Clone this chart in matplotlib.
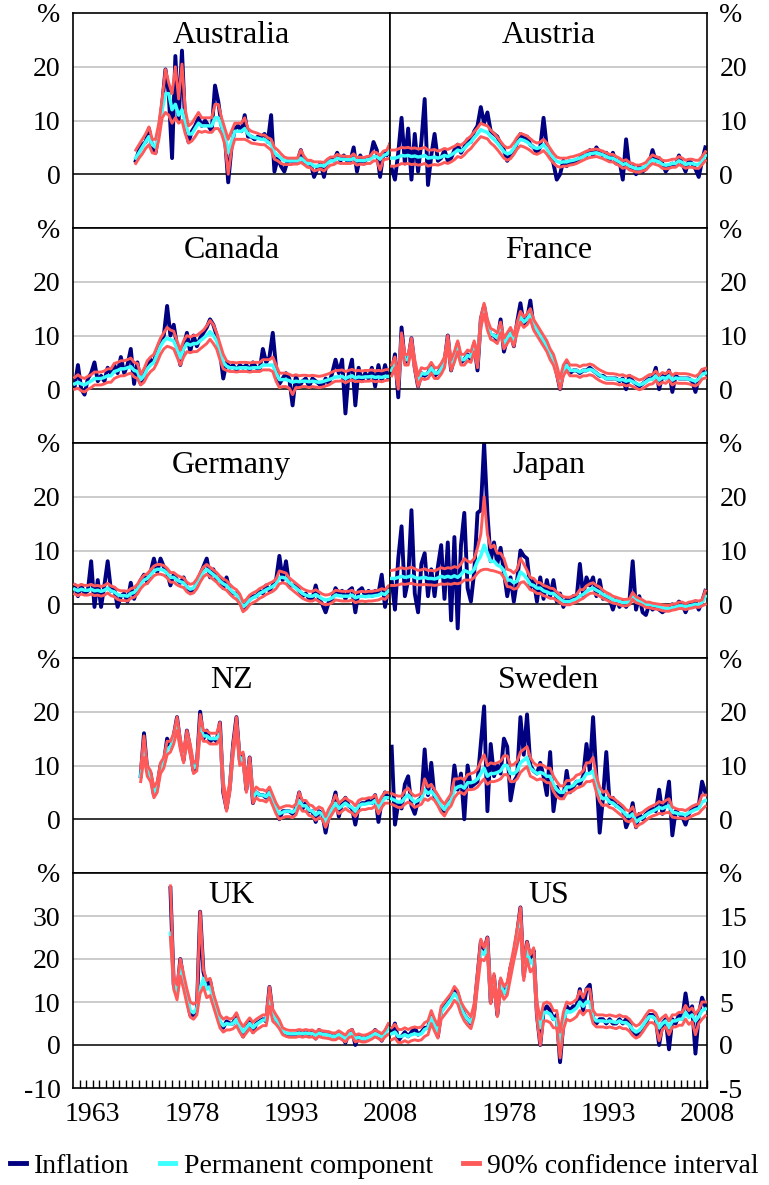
import numpy as np
import matplotlib
matplotlib.use("Agg")
import matplotlib.pyplot as plt
from matplotlib.lines import Line2D

plt.rcParams["font.family"] = ["Liberation Serif", "DejaVu Serif"]

INFL_C = "#000080"
PERM_C = "#3CFFFF"
CI_C = "#FF5A5A"

# half-year steps from the start year
aus_start = 1969.5
aus_infl = [2.5, 4.5, 5.5, 6, 8.5, 5, 4, 8, 13, 19.5,
            15, 3, 22, 10, 23, 9, 6, 8, 9, 10.5,
            9, 10, 9, 8, 16.5, 13.5, 9, 7, -1.5, 5,
            8.5, 9, 8, 11, 7, 7, 6.5, 7, 7, 7.5,
            6, 11, 0.5, 3, 1.5, 0.5, 2.5, 2.5, 2.5, 2.5,
            4.5, 2, 2, 2, -0.5, 1, 2, -0.5, 2.5, 3,
            2.5, 4, 2.5, 3.5, 2.5, 2.5, 5, 0.5, 3.5, 2,
            3, 3, 6, 4.5, -0.5, 4, 3.5, 5.5]
aus_perm = [3, 4, 5, 6, 7, 5.5, 5, 8, 12, 15,
            15, 12, 13, 11, 12, 9.5, 7.5, 7.5, 8.5, 9.5,
            9, 9, 9, 9, 10.5, 10.5, 9, 7, 4, 6,
            8, 8, 8, 8.5, 7.5, 7, 6.8, 6.7, 6.5, 6.5,
            6, 5.5, 4, 3.5, 3, 2.5, 2.5, 2.5, 2.5, 2.5,
            3, 2.5, 2, 2, 1.5, 1.5, 1.7, 1.5, 2, 2.5,
            2.5, 3, 2.8, 2.8, 2.7, 2.7, 3, 2.5, 2.6, 2.5,
            2.7, 2.8, 3.3, 3.3, 2.8, 3.5, 3.7, 4.5]
aus_hi = [4.5, 5.5, 6.5, 7.5, 8.8, 6.5, 6.5, 9.5, 14, 19.5,
          17, 15, 20, 14, 20.5, 12, 9, 9.5, 10.5, 11.5,
          10.5, 10.5, 10.5, 10.5, 13, 13, 10.5, 8.5, 6.5, 8,
          9.5, 9.5, 9.5, 10.5, 8.5, 8, 7.8, 7.6, 7.3, 7.3,
          6.8, 6.5, 5, 4.5, 3.8, 3.2, 3, 3, 3, 3,
          4.5, 3.3, 2.6, 2.6, 2.3, 2.3, 2.3, 2.2, 2.8, 3.2,
          3.2, 3.7, 3.4, 3.4, 3.3, 3.3, 3.8, 3.1, 3.2, 3.1,
          3.3, 3.4, 4.2, 4, 3.5, 4.3, 4.5, 5.7]
aus_lo = [2, 3, 3.8, 4.8, 5.5, 4, 3.8, 6.5, 10.5, 11.5,
          11, 9.5, 10.5, 9.5, 10, 7.5, 5.8, 6.2, 7, 8,
          7.8, 8, 7.8, 7.8, 8.5, 8.5, 7.5, 5.5, 0, 4.5,
          6.5, 6.5, 6.5, 6.5, 6.2, 5.8, 5.7, 5.6, 5.5, 5.5,
          5, 4.5, 2.8, 2.5, 2, 1.8, 1.8, 1.8, 1.9, 1.9,
          2.2, 1.8, 1.3, 1.2, 0.6, 0.8, 1, 0.6, 1.2, 1.7,
          1.8, 2.2, 2, 2, 2, 2, 2.2, 1.7, 1.9, 1.8,
          2, 2, 2.5, 2.5, 0.8, 2.7, 2.8, 3]

aut_start = 1960.25
aut_infl = [1, -1, 4, 10.5, 2, 8.5, -1, 7.5, 0.5, 6, 14, -2,
            3.5, 7.5, 2.5, 3, 4.5, 2.5, 3, 4.5, 5.5, 4, 5, 6.5,
            6, 8, 9, 12.5, 9.5, 11.5, 8, 7.5, 7, 5.5, 4.5, 2.5,
            3.5, 4, 6, 7.5, 6.5, 7, 5.5, 5, 4, 5, 10.5, 5,
            4, 2, -1, 0, 2.5, 1.5, 2.5, 2, 2.5, 3, 3.5, 3.5,
            4.5, 3.5, 5, 4, 3.5, 4, 2.5, 4, 2, 2.5, -1, 6.5,
            1, 1.5, 0, 1.5, 0.5, 1, 2, 4.5, 2.5, 3, 2, 0.5,
            1.5, 2, 1.5, 3.5, 2, 0.5, 2.5, 2, 1, -0.5, 2.5, 5]
aut_perm = [3, 3, 3.2, 3.5, 3.4, 3.5, 3.3, 3.4, 3.2, 3.3, 3.5, 3, 3.1, 3.2,
            3, 3.2, 3.5, 3.3, 3.6, 4, 4.5, 4.3, 4.8, 5.5, 6, 6.8,
            7.5, 8.3, 8, 7.8, 7, 6.5, 5.8, 5, 4.2, 3.8, 4, 4.8,
            5.8, 6.5, 6.3, 6, 5.5, 5, 4.8, 5, 5.5, 4.8, 3.8, 3,
            2.4, 2.2, 2.3, 2.3, 2.5, 2.6, 2.8, 3, 3.3, 3.6, 3.8, 3.9,
            4, 3.8, 3.6, 3.3, 3, 3, 2.6, 2.3, 1.8, 2, 1.5, 1.3,
            1, 1, 1.2, 1.5, 2.2, 2.7, 2.5, 2.3, 1.8, 1.7, 1.8, 2,
            2, 2.5, 2.2, 1.8, 2, 2, 1.8, 1.8, 2.5, 3.5]
aut_hi = [4.5, 4.5, 4.7, 5, 4.9, 5, 4.8, 4.9, 4.7, 4.8, 5, 4.5, 4.5, 4.6,
          4.3, 4.5, 4.8, 4.6, 4.9, 5.2, 5.6, 5.4, 5.9, 6.6, 7.1, 7.9,
          8.6, 9.5, 9.2, 9, 8.2, 7.6, 6.9, 6.1, 5.3, 4.9, 5.1, 5.9,
          6.9, 7.6, 7.4, 7.1, 6.6, 6.1, 5.8, 6, 6.5, 5.8, 4.8, 3.9,
          3.2, 3, 3, 3, 3.2, 3.3, 3.5, 3.7, 4, 4.3, 4.5, 4.6,
          4.7, 4.5, 4.3, 4, 3.7, 3.7, 3.3, 3, 2.5, 2.7, 2.2, 2,
          1.7, 1.7, 1.9, 2.2, 3, 3.6, 3.3, 3.1, 2.6, 2.5, 2.6, 2.8,
          2.8, 3.3, 3, 2.6, 2.8, 2.8, 2.6, 2.6, 3.3, 4.2]
aut_lo = [1.5, 1.5, 1.7, 2, 1.9, 2, 1.8, 1.9, 1.7, 1.8, 2, 1.5, 1.7, 1.8,
          1.7, 1.9, 2.2, 2, 2.3, 2.7, 3.3, 3.1, 3.6, 4.3, 4.8, 5.6,
          6.3, 7, 6.8, 6.6, 5.8, 5.3, 4.6, 3.8, 3, 2.6, 2.9, 3.7,
          4.7, 5.3, 5.1, 4.8, 4.4, 3.9, 3.7, 4, 4.4, 3.7, 2.8, 2.1,
          1.5, 1.3, 1.5, 1.5, 1.7, 1.8, 2, 2.3, 2.6, 2.9, 3.1, 3.2,
          3.3, 3.1, 2.9, 2.6, 2.3, 2.3, 1.9, 1.6, 1.1, 1.3, 0.8, 0.6,
          0.4, 0.4, 0.6, 0.8, 1.5, 2, 1.8, 1.6, 1.1, 1, 1.1, 1.3,
          1.3, 1.8, 1.5, 1.1, 1.3, 1.3, 1.1, 1.1, 1.8, 2.5]

can_start = 1960.25
can_infl = [0.5, 4.5, 0, -1, 2, 3, 5, 1.5, 2.5, 1.5, 4, 3,
            4.5, 3, 6, 3, 4.5, 7.5, 1, 5, 1, 2.5, 4.5, 5.5,
            5, 7.5, 9, 10, 15.5, 10, 12, 8, 4.5, 8, 10.5, 7,
            10, 8, 9.5, 10.5, 11.5, 13, 12, 10, 7, 2, 5, 4,
            4.5, 3.5, 4.5, 4, 4.5, 3.5, 5, 4, 3.5, 7.5, 5, 6,
            10.5, 4, 1, 2, 3, 2, -3, 2.5, 0.5, 1.5, 2, 0.5,
            2, 1.5, 1, 0.5, 2, 1, 3, 5.5, 3, 5.5, -4.5, 3,
            5.5, -3, 4, 1.5, 3, 2, 4, 0.5, 4.5, 1.5, 4.5, 2]
can_perm = [1, 1.3, 1, 0.8, 1.2, 1.5, 2, 2, 2, 2.2, 2.5, 2.5,
            3.3, 3.5, 3.8, 3.8, 4, 4.2, 3.5, 3.3, 1.8, 2.5, 3.8, 4.5,
            5, 6.5, 8, 9, 9.5, 9.2, 9, 7.5, 5.8, 7.5, 8.5, 8.2,
            8.5, 8.5, 9, 9.5, 10, 10.7, 10, 9, 7, 5, 4.3, 4,
            4, 3.9, 4, 4, 4, 3.9, 4, 4, 4, 4.5, 4.5, 4.5,
            4.5, 3, 1.8, 1.8, 1.8, 1.6, 1.3, 1.5, 1.4, 1.5, 1.5, 1.4,
            1.5, 1.4, 1.3, 1.4, 1.6, 1.8, 2, 2.3, 2.3, 2.4, 2, 2.3,
            2.5, 2.1, 2.3, 2.2, 2.3, 2.3, 2.4, 2.2, 2.3, 2.2, 2.4, 2.4]
can_hi = [2.2, 2.7, 2.2, 2, 2.4, 2.7, 3.2, 3.2, 3.2, 3.4, 3.8, 3.8,
          4.8, 5, 5.3, 5.3, 5.5, 5.8, 5, 4.8, 2.8, 3.8, 5.3, 6,
          6.5, 8, 9.5, 10.5, 11.5, 11, 10.8, 9, 7.3, 9, 10, 9.7,
          10, 10, 10.5, 11, 11.8, 12.8, 12, 10.5, 8.5, 6.5, 5.3, 5,
          5, 4.9, 5, 5, 5, 4.9, 5, 5, 5, 5.5, 5.5, 5.5,
          6, 4.5, 3, 3, 3, 2.8, 2.5, 2.7, 2.5, 2.6, 2.6, 2.5,
          2.6, 2.5, 2.4, 2.5, 2.7, 2.9, 3.2, 3.5, 3.5, 3.6, 3.3, 3.5,
          3.7, 3.4, 3.5, 3.4, 3.5, 3.5, 3.6, 3.4, 3.5, 3.4, 3.6, 3.7]
can_lo = [0, 0.2, -0.3, -0.5, 0, 0.3, 0.8, 0.8, 0.8, 1, 1.3, 1.3,
          2, 2.3, 2.5, 2.5, 2.8, 3, 2.3, 2, 0.8, 1.3, 2.5, 3.3,
          3.8, 5, 6.5, 7.5, 8, 7.8, 7.5, 6, 4.5, 6, 7, 6.8,
          7, 7, 7.5, 8, 8.5, 9.3, 8.5, 7.5, 5.5, 3.8, 3.5, 3.3,
          3.3, 3.2, 3.3, 3.3, 3.3, 3.2, 3.3, 3.3, 3.3, 3.6, 3.6, 3.6,
          3.3, 1.5, 0.3, 0.5, 0.5, 0.2, -1, 0.3, 0.3, 0.5, 0.5, 0.3,
          0.5, 0.4, 0.3, 0.4, 0.6, 0.8, 1.2, 1.5, 1.5, 1.6, 1.2, 1.5,
          1.7, 1.4, 1.5, 1.4, 1.5, 1.5, 1.6, 1.4, 1.5, 1.4, 1.6, 1.7]

fra_start = 1960.25
fra_infl = [3, 6.5, -1.5, 11.5, 5, 5.5, 9.5, 4, 0.5, 3, 2.5, 3,
            4.5, 2.5, 3, 4, 5, 10, 3.5, 6, 8.5, 5, 5.5, 6.5,
            5.5, 8.5, 3.5, 13, 15.5, 12, 10, 10, 9, 13, 7, 9.5,
            11, 8, 12.5, 16, 12, 13, 16.5, 11.5, 11, 10, 9, 8,
            6.5, 5.5, 3, 0, 3.5, 5, 3, 3.5, 3.5, 3, 3.5, 3.5,
            4, 3.5, 3, 2.5, 2.5, 2, 2, 2, 2, 1.5, 2, 0,
            2.5, 1.5, 1, 0.5, 1, 1.5, 2, 2, 4, 0, 2.5, 2,
            3.5, -0.5, 2.5, 2, 2, 2, 2, 1.5, -0.5, 2, 3.5, 3]
fra_perm = [3.5, 5, 1, 9.5, 5.5, 5.5, 8.5, 4.5, 1.5, 3, 2.8, 3,
            4, 3, 3, 3.8, 5, 9, 4.5, 6, 8, 5.5, 5.5, 6.3,
            6, 8, 5, 12.5, 15, 12, 10.3, 10, 9.5, 11.5, 8.5, 9.5,
            10.5, 9, 11.5, 13.5, 12.5, 13, 14, 12, 11, 10, 9, 8,
            6.5, 5.5, 3.5, 1, 3.5, 4.5, 3.5, 3.5, 3.5, 3.2, 3.5, 3.5,
            3.7, 3.5, 3, 2.6, 2.3, 2, 2, 2, 1.9, 1.7, 1.8, 1.5,
            1.7, 1.4, 1.1, 0.8, 1, 1.4, 1.8, 1.9, 2.5, 1.7, 2.2, 2,
            2.5, 1.7, 2.1, 2, 2, 2, 1.9, 1.7, 1.5, 1.9, 2.8, 3]
fra_hi = [4.5, 6, 2, 10.5, 6.5, 6.5, 9.5, 5.5, 2.5, 4, 3.8, 4,
          5, 4, 4, 4.8, 6, 10, 5.5, 7, 9, 6.5, 6.5, 7.3,
          7, 9, 6, 13.5, 16, 13, 11.3, 11, 10.5, 12.5, 9.5, 10.5,
          11.5, 10, 12.5, 14.5, 13.5, 14, 15, 13, 12, 11, 10, 9,
          7.5, 6.5, 4.5, 2, 4.5, 5.5, 4.5, 4.5, 4.5, 4.2, 4.5, 4.5,
          4.7, 4.5, 4, 3.6, 3.3, 3, 2.9, 2.9, 2.8, 2.6, 2.7, 2.4,
          2.6, 2.3, 2, 1.7, 1.9, 2.3, 2.7, 2.8, 3.4, 2.6, 3.1, 2.9,
          3.4, 2.6, 3, 2.9, 2.9, 2.9, 2.8, 2.6, 2.4, 2.8, 3.7, 3.9]
fra_lo = [2.5, 4, 0, 8.5, 4.5, 4.5, 7.5, 3.5, 0.5, 2, 1.8, 2,
          3, 2, 2, 2.8, 4, 8, 3.5, 5, 7, 4.5, 4.5, 5.3,
          5, 7, 4, 11.5, 14, 11, 9.3, 9, 8.5, 10.5, 7.5, 8.5,
          9.5, 8, 10.5, 12.5, 11.5, 12, 13, 11, 10, 9, 8, 7,
          5.5, 4.5, 2.5, 0, 2.5, 3.5, 2.5, 2.5, 2.5, 2.2, 2.5, 2.5,
          2.7, 2.5, 2, 1.6, 1.3, 1.1, 1.1, 1.1, 1, 0.8, 0.9, 0.6,
          0.8, 0.5, 0.2, -0.1, 0.1, 0.5, 0.9, 1, 1.6, 0.8, 1.3, 1.1,
          1.6, 0.8, 1.2, 1.1, 1.1, 1.1, 1, 0.8, 0.6, 1, 1.9, 2.1]

ger_start = 1960.25
ger_infl = [3.5, 1.5, 3.5, 2, 2.5, 8, -0.5, 4.5, -0.5, 3.5, 8, 2.5,
            3, -0.5, 1.5, 2, 0.5, 4, 1, 3, 4.5, 5.5, 4, 6,
            8.5, 6, 8.5, 7, 6, 3.5, 5.5, 4.5, 4, 5, 3, 2.5,
            2.5, 4, 5.5, 7, 8.5, 5, 6.5, 4.5, 5, 3, 5, 2.5,
            2, 2, 1, -1, 0, 1, 1.5, 1.5, 2.5, 2, 3.5, 2.5,
            3.5, 4.5, 9, 4.5, 8, 3.5, 3.5, 3.5, 2.5, 1.5, 2, 1,
            1, 3.5, 1, 0, -1.5, 0.5, 1, 3, 2, 2.5, 1, 2.5,
            3, -1.5, 2.5, 3, 1.5, 2.5, 1.5, 2.5, 2, 5.5, -0.5, 3]
ger_perm = [2.8, 2.5, 2.8, 2.6, 2.6, 2.8, 2.5, 2.6, 2.4, 2.6, 3, 2.5,
            2.3, 1.8, 1.6, 1.6, 1.5, 2, 2.2, 2.8, 3.8, 4.5, 4.8, 5.5,
            6.2, 6.5, 6.5, 6.3, 5.8, 5, 5, 4.5, 4.2, 4, 3.2, 2.8,
            3, 3.8, 5, 6, 6.5, 6, 5.5, 5, 4.3, 3.8, 3.5, 2.8,
            2.2, 1.8, 1, -0.5, 0, 0.8, 1.2, 1.5, 2, 2.3, 2.7, 3,
            3.3, 3.8, 5, 5, 4.8, 4, 3.5, 3, 2.5, 2, 1.7, 1.5,
            1.5, 1.8, 1.4, 1, 0.8, 0.9, 1.2, 1.7, 1.6, 1.5, 1.5, 1.5,
            1.7, 1.2, 1.4, 1.5, 1.4, 1.5, 1.5, 1.6, 1.7, 2, 1.8, 2.5]
ger_hi = [3.7, 3.4, 3.7, 3.5, 3.5, 3.7, 3.4, 3.5, 3.3, 3.5, 3.9, 3.4,
          3.2, 2.7, 2.5, 2.5, 2.4, 2.9, 3.1, 3.7, 4.7, 5.4, 5.7, 6.4,
          7.1, 7.4, 7.4, 7.2, 6.7, 5.9, 5.9, 5.4, 5.1, 4.9, 4.1, 3.7,
          3.9, 4.7, 5.9, 6.9, 7.4, 6.9, 6.4, 5.9, 5.2, 4.7, 4.4, 3.7,
          3.1, 2.7, 1.9, 0.4, 0.9, 1.7, 2.1, 2.4, 2.9, 3.2, 3.6, 3.9,
          4.2, 4.7, 6.2, 6, 5.8, 4.9, 4.4, 3.9, 3.4, 2.9, 2.6, 2.4,
          2.4, 2.7, 2.3, 1.9, 1.7, 1.8, 2.1, 2.6, 2.5, 2.4, 2.4, 2.4,
          2.6, 2.1, 2.3, 2.4, 2.3, 2.4, 2.4, 2.5, 2.6, 2.9, 2.7, 3.4]
ger_lo = [1.9, 1.6, 1.9, 1.7, 1.7, 1.9, 1.6, 1.7, 1.5, 1.7, 2.1, 1.6,
          1.4, 0.9, 0.7, 0.7, 0.6, 1.1, 1.3, 1.9, 2.9, 3.6, 3.9, 4.6,
          5.3, 5.6, 5.6, 5.4, 4.9, 4.1, 4.1, 3.6, 3.3, 3.1, 2.3, 1.9,
          2.1, 2.9, 4.1, 5.1, 5.6, 5.1, 4.6, 4.1, 3.4, 2.9, 2.6, 1.9,
          1.3, 0.9, 0.1, -1.4, -0.9, -0.1, 0.3, 0.6, 1.1, 1.4, 1.8, 2.1,
          2.4, 2.9, 3.8, 4, 3.8, 3.1, 2.6, 2.1, 1.6, 1.1, 0.8, 0.6,
          0.6, 0.9, 0.5, 0.1, -0.1, 0, 0.3, 0.8, 0.7, 0.6, 0.6, 0.6,
          0.8, 0.3, 0.5, 0.6, 0.5, 0.6, 0.6, 0.7, 0.8, 1.1, 0.9, 1.6]

jpn_start = 1960.25
jpn_infl = [4.5, -1, 8.5, 14.5, 1.5, 4.5, 17.5, 2, -1.5, 7.5, 9.5, 1.5,
            6.5, 1.5, 7, 11, 1, 11.5, -3, 12.5, -4.5, 11, 17, 3,
            0.5, 6, 17, 17.5, 30, 17, 8, 11.5, 7.5, 10.5, 6, 1.5,
            5, 0.5, 4.5, 10, 9, 8.5, 3, 4.5, 0.5, 5, 1, 4.5,
            1.5, 4.5, 0.5, 2, -0.5, 1, 0.5, 1.5, 1, 7.5, 1.5, 5,
            3.5, 5, 1.5, 4.5, 1, 1.5, 1, -1, 1, -0.5, 0.5, -0.5,
            0.5, 8, -1, 1.5, -1.5, -2, 0, -1, -0.5, -1, -1.5, -1,
            -1, 0, -0.5, 0.5, 0, -1.5, 0, -0.5, 0.5, -1, 0.5, 2.5]
jpn_perm = [4.8, 4.8, 5, 5.2, 5, 5.1, 5.3, 5, 4.8, 4.9, 5, 4.8,
            4.8, 4.7, 4.9, 5.2, 5, 5.2, 5, 5.3, 5, 5.5, 6.3, 6,
            5.8, 6.5, 8, 9, 11, 9.5, 8, 8, 7.3, 7, 6.3, 4.5,
            4.5, 4, 4.3, 6, 5.5, 4.7, 3.7, 3.5, 3, 3, 2.5, 2.3,
            2, 2, 1.5, 1, 0.5, 0.5, 0.5, 0.8, 1, 1.6, 1.8, 2.4,
            2.8, 3, 2.6, 2.3, 1.8, 1.5, 1.2, 0.8, 0.7, 0.5, 0.3, 0.3,
            0.5, 1.5, 0.8, 0.6, 0.3, 0, 0, -0.2, -0.3, -0.5, -0.7, -0.8,
            -0.8, -0.6, -0.5, -0.3, -0.3, -0.5, -0.3, -0.2, 0, -0.1, 0.3, 1.5]
jpn_hi = [6.3, 6.4, 6.6, 6.8, 6.6, 6.7, 6.9, 6.6, 6.3, 6.4, 6.6, 6.3,
          6.3, 6.2, 6.5, 6.8, 6.6, 6.8, 6.7, 7, 6.8, 7.5, 8.5, 8,
          7.8, 8.5, 10.5, 13, 20, 13, 10.5, 11, 9.5, 9.5, 8.5, 6.5,
          6.3, 5.8, 6.5, 8.5, 7.5, 6.3, 5, 4.8, 4.1, 4, 3.5, 3.3,
          3, 2.9, 2.3, 1.8, 1.4, 1.3, 1.3, 1.6, 1.8, 2.7, 2.7, 3.4,
          3.8, 4, 3.5, 3.2, 2.6, 2.2, 1.9, 1.5, 1.3, 1.1, 0.9, 0.9,
          1, 2.2, 1.4, 1.1, 0.8, 0.4, 0.4, 0.2, 0.1, 0, -0.1, -0.2,
          -0.2, 0, 0.1, 0.4, 0.4, 0.1, 0.4, 0.5, 0.7, 0.6, 0.8, 2.5]
jpn_lo = [3.5, 3.5, 3.6, 3.8, 3.7, 3.8, 3.9, 3.7, 3.6, 3.6, 3.7, 3.6,
          3.6, 3.5, 3.6, 3.8, 3.7, 3.8, 3.7, 3.9, 3.8, 4, 4.5, 4.5,
          4.5, 5, 5.8, 6.3, 6.5, 6.5, 6.3, 6.2, 6, 5.8, 5, 3.3,
          3.2, 2.8, 3, 4, 4.2, 3.5, 2.7, 2.5, 2, 2, 1.6, 1.4,
          1.1, 1.1, 0.7, 0.3, -0.1, -0.1, -0.1, 0.2, 0.4, 0.8, 1.1, 1.6,
          2, 2.1, 1.8, 1.5, 1.1, 0.8, 0.5, 0.2, 0.1, -0.1, -0.3, -0.3,
          -0.1, 0.9, 0.3, 0.1, -0.2, -0.6, -0.6, -0.8, -0.9, -1, -1.2, -1.3,
          -1.3, -1.1, -1, -0.8, -0.8, -1, -0.8, -0.7, -0.5, -0.6, -0.3, 0]

nz_start = 1970.25
nz_infl = [8, 16, 9, 8.5, 4.5, 6, 10, 10.5, 15, 13.5, 15.5, 19,
           14, 11, 16.5, 13, 9, 10, 20, 15, 16.5, 14.5, 15, 14.5,
           18, 5, 2, 6, 14, 19, 11, 12, 5.5, 11.5, 3, 5,
           4.5, 4.5, 4, 5.5, 3, 2, 0, 1.5, 1.5, 1.5, 1, 2,
           5, 2, 3, 1.5, 1.5, -0.5, 1.5, 1, -2.5, 1, 2.5, 5,
           0.5, 3, 4, 2.5, 2, -1, 2.5, 3, 3, 3.5, 3, 4.5,
           -0.5, 3.5, 5, 4]
nz_perm = [8, 13, 9, 8, 5, 6, 9.5, 10.5, 13, 13.5, 15, 17.5,
           14, 11.5, 15.5, 13, 9.5, 10, 17, 15.5, 15.5, 15, 15, 15,
           16, 6, 2.5, 6, 13, 17.5, 11, 11.5, 6, 10.5, 4, 5,
           4.5, 4.5, 4.2, 5, 3.5, 2, 1, 1.3, 1.5, 1.5, 1.3, 1.8,
           3.5, 2.5, 2.5, 1.7, 1.5, 0.8, 1.3, 1, -0.5, 1, 2, 3,
           2, 2.5, 3, 2.5, 2.2, 1.5, 2.5, 2.8, 2.8, 3, 3, 3.5,
           2, 3.2, 4, 4]
nz_hi = [9.5, 15.5, 10, 9, 6, 7, 10.5, 11.5, 14.5, 14.5, 16, 19,
         15, 12.5, 16.5, 14, 10.5, 11, 19.5, 16.5, 16.5, 16, 16, 16,
         18, 7, 3.5, 7, 14, 19, 12, 12.5, 7, 11.5, 5, 6,
         5.5, 5.5, 5.2, 6, 4.5, 3, 2, 2.3, 2.5, 2.5, 2.3, 2.8,
         5, 3.5, 3.5, 2.7, 2.5, 1.8, 2.3, 2, 0.5, 2, 3, 4.5,
         3, 3.5, 4, 3.5, 3.2, 2.5, 3.5, 3.8, 3.8, 4, 4, 4.5,
         3, 4.2, 5, 5]
nz_lo = [7, 11.5, 8, 7, 4, 5, 8.5, 9.5, 12, 12.5, 14, 16.5,
         13, 10.5, 14.5, 12, 8.5, 9, 16, 14.5, 14.5, 14, 14, 14,
         15, 5, 1.5, 5, 12, 16.5, 10, 10.5, 5, 9.5, 3, 4,
         3.5, 3.5, 3.2, 4, 2.5, 1, 0, 0.3, 0.5, 0.5, 0.3, 0.8,
         2.5, 1.5, 1.5, 0.7, 0.5, -0.2, 0.3, 0, -1.5, 0, 1, 2,
         1, 1.5, 2, 1.5, 1.2, 0.5, 1.5, 1.8, 1.8, 2, 2, 2.5,
         1, 2.2, 3, 3]

swe_start = 1960.25
swe_infl = [13.5, -1, 3, 2, 6.5, 8, 2.5, 1, 3.5, 4, 13, 4.5,
            10.5, 4, 3.5, 2, 1.5, 3, 3.5, 10, 5.5, 8.5, 0, 10,
            6, 6.5, 7, 14, 21, 1.5, 14, 8, 10, 8.5, 15, 13.5,
            3.5, 7, 8, 19, 12, 19.5, 10, 9, 8.5, 10.5, 8, 4.5,
            12.5, 1.5, 6, 4.5, 4, 9, 5, 6, 7, 6.5, 8, 14,
            9, 19, 8, -2.5, 4, 12.5, 3, 4, 2.5, 2.5, 2, -1.5,
            0, 3, -1.5, 1, 0, 1, 1.5, 2, 1.5, 5.5, 1, 3,
            7, -3, 1.5, 1, 0.5, -1, 1, 2, 2, 2.5, 7, 5]
swe_perm = [3.8, 3.5, 3.2, 3.2, 4, 4.5, 3.8, 3.2, 3.5, 3.8, 5.5, 4.8,
            5.2, 4.5, 3.5, 2.5, 1.8, 2.8, 3.5, 5.5, 6, 6.2, 5.8, 6.8,
            6.8, 7, 7.5, 8.5, 9.5, 8, 8.5, 8.5, 8.7, 9, 10, 10,
            8.5, 8.5, 9, 10.5, 11, 11.5, 9.5, 9, 8.5, 8.7, 8.5, 8,
            8, 6.5, 5.5, 5, 5, 6, 6, 6.3, 7, 7.2, 7.5, 8.5,
            8.5, 9, 6.5, 4.5, 3.8, 4, 3.2, 3, 2.5, 2, 1.5, 0.8,
            0.5, 1, -0.5, 0, 0.3, 0.8, 1.2, 1.5, 1.8, 2.2, 2, 2.3,
            2.5, 1.3, 1.2, 1, 1, 0.8, 1.2, 1.5, 1.8, 2, 3.2, 3.5]
swe_hi = [4.8, 4.5, 4.3, 4.3, 5.3, 5.8, 4.8, 4.3, 4.5, 4.8, 7.5, 6,
          6.5, 5.5, 4.5, 3.5, 2.8, 3.8, 4.7, 7.5, 7.5, 7.7, 7.3, 8.3,
          8.5, 8.7, 9.3, 10.8, 12, 10, 10.5, 10.3, 10.5, 10.8, 11.8, 11.8,
          10, 10.2, 10.8, 12.5, 13, 13.5, 11.5, 10.5, 10, 10.2, 10, 9.5,
          9.5, 8, 7, 6.2, 6.2, 7.2, 7.2, 7.5, 8.2, 8.4, 9, 10.5,
          10.5, 11.5, 8, 6, 5, 5.3, 4.2, 4, 3.5, 3, 2.5, 1.8,
          1.5, 2.3, 0.7, 1, 1.3, 1.8, 2.2, 2.5, 2.8, 3.3, 3, 3.5,
          3.8, 2.3, 2, 1.8, 1.8, 1.6, 2, 2.4, 2.7, 2.9, 4.5, 4.5]
swe_lo = [2.8, 2.5, 2.2, 2.2, 2.8, 3.2, 2.8, 2.2, 2.5, 2.8, 3.8, 3.5,
          4, 3.5, 2.5, 1.3, 0.6, 1.8, 2.5, 4, 4.8, 5, 4.6, 5.5,
          5.5, 5.6, 6, 6.8, 7.5, 6.5, 7, 7, 7.2, 7.5, 8.3, 8.3,
          7, 7, 7.5, 8.7, 9.3, 9.8, 8, 7.7, 7.3, 7.5, 7.3, 6.8,
          6.8, 5.2, 4.2, 3.8, 3.8, 4.8, 5, 5.3, 5.8, 6, 6.3, 7,
          7, 7.3, 5, 3.3, 2.5, 2.7, 2.2, 2, 1.5, 1, 0.5, -0.3,
          -0.5, 0, -1.5, -1, -0.7, -0.2, 0.3, 0.6, 0.8, 1.1, 1, 1.2,
          1.3, 0.4, 0.3, 0.2, 0.2, 0, 0.3, 0.6, 0.9, 1.1, 1.8, 2.4]

uk_start = 1974.75
uk_infl = [36.5, 14, 12, 20, 15, 11, 7, 7, 8, 31, 17, 14,
           15, 11, 8, 5, 4, 5.5, 5, 5, 7, 4, 2, 4,
           5.5, 3, 5, 5.5, 6, 5.5, 13.5, 7, 6, 5, 3, 2.5,
           2.5, 2.5, 2.5, 3, 2.5, 3, 2.5, 3, 1.5, 3.5, 2.5, 2.5,
           2.5, 2, 2, 3, 2, 0.5, 3, 3.5, 0, 2, 1.5, 1.5,
           2, 2.5, 3.5, 2.5, 1, 3, 4.5]
uk_perm = [26, 14.5, 12, 18, 14.5, 11, 8, 7.5, 8.5, 13, 15.5, 13,
           13.5, 10.5, 8, 5.5, 4.5, 5, 4.8, 5, 6, 4.3, 3, 4,
           5, 4, 4.8, 5.3, 5.8, 5.8, 11, 7, 6, 4.8, 3.2, 2.8,
           2.6, 2.6, 2.6, 2.8, 2.6, 2.8, 2.6, 2.7, 2.2, 2.8, 2.5, 2.4,
           2.3, 2, 2, 2.5, 2, 1.5, 2.5, 2.8, 1.5, 1.8, 1.5, 1.5,
           1.8, 2.2, 2.7, 2.3, 1.8, 2.7, 4]
uk_hi = [37, 16, 14, 20, 16.5, 13, 10, 9.5, 10, 31, 17.5, 15,
         15.5, 12, 9.5, 7, 6, 6.5, 6, 6.3, 7.5, 5.5, 4.3, 5.3,
         6.3, 5.3, 6, 6.5, 7, 7, 13.5, 8.3, 7, 5.8, 4, 3.6,
         3.4, 3.4, 3.4, 3.6, 3.4, 3.6, 3.4, 3.5, 3, 3.6, 3.3, 3.2,
         3.1, 2.8, 2.8, 3.3, 2.8, 2.3, 3.3, 3.6, 2.3, 2.6, 2.3, 2.3,
         2.6, 3, 3.5, 3.1, 2.6, 3.5, 5]
uk_lo = [25, 13, 10.5, 16, 13, 9.5, 6.5, 6, 7, 12, 13.5, 11,
         11.5, 9, 6.5, 4, 3, 3.5, 3.5, 3.8, 4.5, 3, 1.8, 2.8,
         3.8, 2.8, 3.5, 4, 4.5, 4.5, 9, 5.5, 4.8, 3.8, 2.4, 2,
         1.8, 1.8, 1.8, 2, 1.8, 2, 1.8, 1.9, 1.4, 2, 1.7, 1.6,
         1.5, 1.2, 1.2, 1.7, 1.2, 0.7, 1.7, 2, 0.7, 1, 0.7, 0.7,
         1, 1.4, 1.9, 1.5, 1, 1.9, 2.5]

us_start = 1960.25
us_infl = [1.5, 2.5, 0.5, 1, 1.5, 1, 1.5, 2, 1.2, 1.5, 2, 2,
           3.5, 2.5, 1, 4, 4.5, 5, 5.5, 6.5, 6, 4.5, 3.5, 3,
           2.5, 4, 8, 12, 11, 12.5, 5, 8, 3.5, 7.5, 6, 6.5,
           9, 10.5, 13, 16, 8, 12, 10, 11, 3.5, 0, 4, 4.5,
           4, 3, 3.5, -2, 2.5, 4.5, 4, 4.5, 4.5, 6.5, 4, 6.5,
           7, 3, 2.5, 3, 3, 2.5, 3, 2.5, 2.5, 3, 2.5, 3,
           2.5, 1.5, 1, 1.5, 2, 2.5, 3.5, 3.5, 3, 0, 2.5, 3,
           -0.5, 3, 2.5, 3.5, 3, 6, 3.5, 4.5, -1, 3.5, 5.5, 4.5]
us_perm = [1.3, 1.5, 1, 1, 1.2, 1, 1.2, 1.3, 1.2, 1.3, 1.8, 2,
           3.2, 2.3, 1.5, 3.8, 4.3, 4.8, 5.3, 6, 5.5, 4.3, 3.5, 3,
           2.6, 4, 7.5, 11, 10.5, 11.5, 5.5, 7.5, 4, 7, 6, 6.5,
           8.5, 10.5, 12.5, 14.5, 8.5, 11, 9.5, 10, 4, 2, 3.8, 3.8,
           3.6, 3, 3, 0, 2.8, 4, 3.8, 4, 4.3, 5, 4.5, 5,
           5, 3.2, 2.8, 2.8, 2.8, 2.7, 2.8, 2.7, 2.6, 2.8, 2.6, 2.6,
           2.3, 1.8, 1.5, 1.7, 2.2, 2.8, 3.3, 3.3, 3, 2, 2.5, 2.8,
           2, 2.8, 2.8, 3, 3, 3.8, 3.2, 3.5, 2.8, 3.3, 4, 4.2]
us_hi = [2, 2.4, 1.8, 1.8, 2, 1.8, 2, 2.1, 2, 2.1, 2.6, 2.8,
         4, 3, 2.3, 4.5, 5, 5.5, 6, 6.8, 6.3, 5, 4.3, 3.8,
         3.3, 4.8, 8.5, 12.3, 11.3, 12.5, 6.3, 8.3, 4.8, 7.8, 6.8, 7.3,
         9.3, 11.3, 13.5, 16, 9.5, 12, 10.5, 11.3, 5, 3, 4.8, 5,
         4.8, 4, 4, 1.5, 3.8, 5, 4.8, 5, 5.3, 6.3, 5.5, 6.5,
         6.5, 4, 3.5, 3.5, 3.5, 3.4, 3.5, 3.4, 3.3, 3.5, 3.3, 3.3,
         3, 2.5, 2.2, 2.4, 2.9, 3.5, 4, 4, 3.7, 2.8, 3.2, 3.5,
         2.8, 3.5, 3.5, 3.8, 3.8, 4.6, 4, 4.3, 3.6, 4.1, 5, 5]
us_lo = [0.6, 0.8, 0.3, 0.3, 0.5, 0.3, 0.5, 0.6, 0.5, 0.6, 1, 1.2,
         2.5, 1.6, 0.8, 3, 3.5, 4, 4.5, 5.2, 4.8, 3.6, 2.8, 2.3,
         1.9, 3.3, 6.8, 10, 9.8, 10.5, 4.8, 6.8, 3.3, 6.3, 5.3, 5.8,
         7.8, 9.8, 11.5, 13.5, 7.5, 10, 8.5, 9, 3, 0, 2.8, 2.8,
         2.6, 2, 2, -1.5, 1.8, 3, 2.8, 3, 3.3, 4, 3.5, 4,
         4, 2.5, 2.1, 2.1, 2.1, 2, 2.1, 2, 1.9, 2.1, 1.9, 1.9,
         1.6, 1.1, 0.8, 1, 1.5, 2.1, 2.6, 2.6, 2.3, 0.5, 1.8, 2.1,
         1.2, 2.1, 2.1, 2.3, 2.3, 3, 2.4, 2.7, 1.2, 2.5, 3, 3.4]

panels = [
    ("Australia", aus_start, aus_infl, aus_perm, aus_lo, aus_hi),
    ("Austria", aut_start, aut_infl, aut_perm, aut_lo, aut_hi),
    ("Canada", can_start, can_infl, can_perm, can_lo, can_hi),
    ("France", fra_start, fra_infl, fra_perm, fra_lo, fra_hi),
    ("Germany", ger_start, ger_infl, ger_perm, ger_lo, ger_hi),
    ("Japan", jpn_start, jpn_infl, jpn_perm, jpn_lo, jpn_hi),
    ("NZ", nz_start, nz_infl, nz_perm, nz_lo, nz_hi),
    ("Sweden", swe_start, swe_infl, swe_perm, swe_lo, swe_hi),
    ("UK", uk_start, uk_infl, uk_perm, uk_lo, uk_hi),
    ("US", us_start, us_infl, us_perm, us_lo, us_hi),
]

W, H = 769, 1185
fig = plt.figure(figsize=(W / 100, H / 100), dpi=100)

for k, (name, start, infl, perm, lo, hi) in enumerate(panels):
    row, col = divmod(k, 2)
    left = 73 if col == 0 else 390
    bottom = H - (228 + 215 * row)
    ax = fig.add_axes([left / W, bottom / H, 317 / W, 215 / H])

    if row < 4:
        ylim, ticks, labels, grid = (-10, 30), [0, 10, 20, 30], ["0", "10", "20", "%"], [10, 20]
    elif col == 0:
        ylim = (-10, 40)
        ticks = [-10, 0, 10, 20, 30, 40]
        labels = ["-10", "0", "10", "20", "30", "%"]
        grid = [10, 20, 30]
    else:
        ylim = (-5, 20)
        ticks = [-5, 0, 5, 10, 15, 20]
        labels = ["-5", "0", "5", "10", "15", "%"]
        grid = [5, 10, 15]

    for g in grid:
        ax.axhline(g, color="#BDBDBD", lw=1.1, zorder=0)
    ax.axhline(0, color="black", lw=1.1, zorder=1)

    t = start + 0.5 * np.arange(len(infl))
    ax.plot(t, infl, color=INFL_C, lw=2.8, zorder=2)
    ax.plot(t, perm, color=PERM_C, lw=2.5, zorder=3)
    ax.plot(t, lo, color=CI_C, lw=2.1, zorder=4)
    ax.plot(t, hi, color=CI_C, lw=2.1, zorder=4)

    ax.set_xlim(1960, 2008)
    ax.set_ylim(*ylim)
    ax.set_yticks(ticks)
    ax.set_yticklabels(labels)
    ax.tick_params(axis="y", length=0, labelsize=20, pad=9)
    if col == 1:
        ax.yaxis.tick_right()

    if row < 4:
        ax.tick_params(axis="x", bottom=False, labelbottom=False)
    else:
        ax.set_xticks([1963, 1978, 1993, 2008])
        ax.set_xticks(np.arange(1961, 2008), minor=True)
        if col == 0:
            ax.set_xticklabels(["1963", "1978", "1993", "2008"])
        else:
            ax.set_xticklabels(["", "1978", "1993", "2008"])
        ax.tick_params(axis="x", which="both", direction="in", length=6,
                       width=1, labelsize=20, pad=10)

    for s in ax.spines.values():
        s.set_linewidth(1.2)

    ax.text(0.5, 0.86, name, transform=ax.transAxes, ha="center",
            va="baseline", fontsize=23)

handles = [Line2D([0], [0], color=INFL_C, lw=3.5),
           Line2D([0], [0], color=PERM_C, lw=3.5),
           Line2D([0], [0], color=CI_C, lw=3.5)]
fig.legend(handles, ["Inflation", "Permanent component", "90% confidence interval"],
           loc="center", bbox_to_anchor=(0.5, 1 - 1166 / H), ncol=3,
           frameon=False, fontsize=20, handlelength=0.55, handletextpad=0.3,
           columnspacing=1.1, borderaxespad=0, borderpad=0)

fig.savefig("out.png", dpi=100)
